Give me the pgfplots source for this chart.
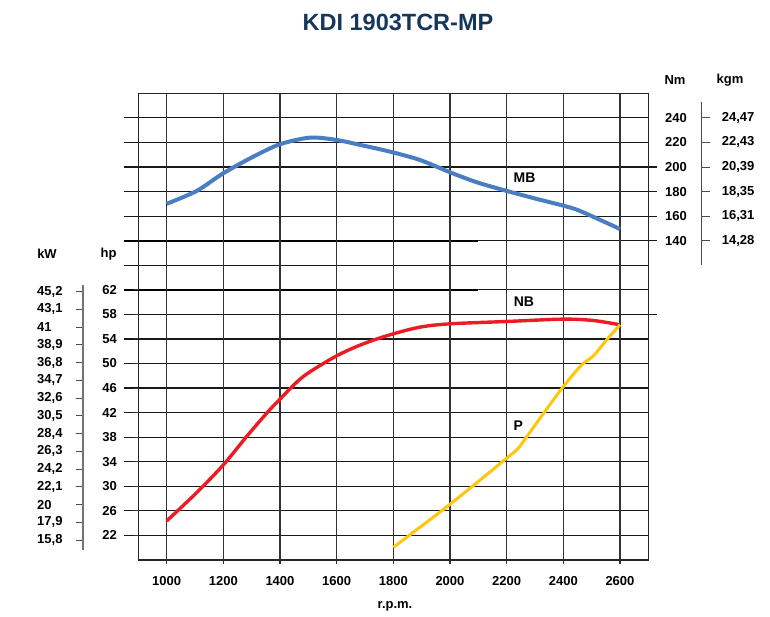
\documentclass[border=0pt]{standalone}
\usepackage{fontspec}
\setmainfont{Liberation Sans}
\usepackage{pgfplots}
\usepackage{pgfplotstable}
\pgfplotsset{compat=1.18}

\definecolor{mbblue}{RGB}{74,126,194}
\definecolor{nbred}{RGB}{236,28,36}
\definecolor{pyel}{RGB}{255,198,10}
\definecolor{navy}{RGB}{22,55,92}

\newcommand\lbl{\fontsize{13pt}{15pt}\selectfont\bfseries}
\newcommand\crv{\fontsize{14pt}{16pt}\selectfont\bfseries}

% torque MB, Nm
\pgfplotstableread{
rpm Nm
1000 170
1106 180.5
1200 194.9
1306 208.4
1400 218.5
1506 223.9
1600 222
1694 217.4
1788 212.5
1894 205.7
2000 195.7
2094 187.6
2200 180.5
2306 174
2400 168.5
2459 164.2
2600 149.5
}\mbdata

% power NB, hp
\pgfplotstableread{
rpm hp
1000 24.35
1106 28.97
1200 33.48
1282 38.09
1353 41.9
1400 44.19
1482 47.87
1600 51.24
1694 53.2
1788 54.67
1894 55.92
2000 56.46
2200 56.84
2400 57.22
2506 57.0
2600 56.3
}\nbdata

% power P, hp
\pgfplotstableread{
rpm hp
1800 20.07
2000 27.07
2200 34.57
2241 36.2
2271 38.09
2335 42.17
2400 46.24
2465 49.78
2506 51.24
2553 53.85
2600 56.3
}\pdata

\pgfplotsset{
  helper/.style={scale only axis, anchor=south west, height=466.7pt,
    ymin=18, ymax=94, xmin=0, xmax=1,
    axis line style={draw=none}, xtick=\empty,
    ymajorgrids, yticklabel={\empty}, yticklabel style={opacity=0},
    major tick length=0pt,
    major grid style={black!90, line width=1.2pt}},
}

\begin{document}
\begin{tikzpicture}
\useasboundingbox (0,0) rectangle (770pt,617pt);

% horizontal grid, running out to the left
\begin{axis}[helper, at={(124.3pt,57pt)}, width=524pt, ytick={22,26,...,90}]
\end{axis}
% lines that run out to the right
\begin{axis}[helper, at={(138.3pt,57pt)}, width=518.7pt, ytick={58,70,74,78,82}]
\end{axis}
% heavier parts
\begin{axis}[helper, at={(124.3pt,57pt)}, width=353.7pt, ytick={62,70},
  major grid style={black, line width=2pt}]
\end{axis}

% main axis: hp
\begin{axis}[
  at={(138.3pt,57pt)}, anchor=south west, scale only axis,
  width=510pt, height=466.7pt,
  xmin=900, xmax=2700, ymin=18, ymax=94,
  xtick={1000,1200,...,2600},
  ytick={22,26,...,62},
  xmajorgrids,
  major grid style={black!80, line width=1.1pt},
  axis line style={black!85, line width=1.2pt},
  tick style={black!80, line width=1.1pt},
  tick align=outside, major tick length=4pt,
  xtick pos=bottom, ytick pos=left,
  ticklabel style={font=\lbl, inner sep=0pt},
  xticklabel style={yshift=-12.4pt},
  yticklabel style={anchor=east, xshift=-17.3pt},
  /pgf/number format/assume math mode=true,
  /pgf/number format/set thousands separator={},
  clip=false,
]
\addplot[nbred, line width=3.4pt, smooth] table[x=rpm, y=hp] {\nbdata};
\addplot[pyel, line width=3pt, smooth] table[x=rpm, y=hp] {\pdata};
\node[font=\crv] at (axis cs:2263,80.3) {MB};
\node[font=\crv] at (axis cs:2261,60.04) {NB};
\node[font=\crv] at (axis cs:2241,39.8) {P};
\end{axis}

% Nm scale
\begin{axis}[
  at={(138.3pt,57pt)}, anchor=south west, scale only axis,
  width=510pt, height=466.7pt,
  xmin=900, xmax=2700, ymin=-120, ymax=260,
  axis line style={draw=none}, xtick=\empty,
  ytick={140,160,...,240}, ytick pos=right, yticklabel pos=right,
  major tick length=0pt,
  yticklabel style={font=\lbl, inner sep=0pt, anchor=west, xshift=16.7pt},
  /pgf/number format/assume math mode=true,
]
\addplot[mbblue, line width=4pt, smooth] table[x=rpm, y=Nm] {\mbdata};
\end{axis}

% kW scale
\begin{axis}[
  at={(83pt,67pt)}, anchor=south west, scale only axis,
  width=10pt, height=265pt,
  xmin=0, xmax=1, ymin=14.62, ymax=45.99,
  hide x axis, axis y line*=left,
  axis line style={black!55, line width=1.8pt},
  tick style={black!70, line width=1pt},
  tick align=outside, major tick length=7pt,
  ytick={15.8,17.9,20,22.1,24.2,26.3,28.4,30.5,32.6,34.7,36.8,38.9,41,43.1,45.2},
  yticklabels={{15,8},{17,9},20,{22,1},{24,2},{26,3},{28,4},{30,5},{32,6},{34,7},{36,8},{38,9},41,{43,1},{45,2}},
  yticklabel style={font=\lbl, inner sep=0pt, anchor=west, xshift=-39pt},
]
\end{axis}

% kgm scale
\begin{axis}[
  at={(701.7pt,352pt)}, anchor=south east, scale only axis,
  width=10pt, height=163.3pt,
  xmin=0, xmax=1, ymin=120.2, ymax=253.2,
  hide x axis, axis y line*=right,
  axis line style={black!70, line width=1.5pt},
  tick style={black!70, line width=1pt},
  tick align=outside, major tick length=8pt,
  ytick={140,160,...,240},
  yticklabels={{14,28},{16,31},{18,35},{20,39},{22,43},{24,47}},
  yticklabel style={font=\lbl, inner sep=0pt, anchor=west, xshift=12pt},
]
\end{axis}

\node[font=\fontsize{23.5pt}{26pt}\selectfont\bfseries, text=navy] at (398pt,595pt) {KDI 1903TCR-MP};
\node[font=\lbl] at (395pt,10.3pt) {r.p.m.};
\node[font=\lbl] at (47pt,363pt) {kW};
\node[font=\lbl] at (108.5pt,363pt) {hp};
\node[font=\lbl] at (675pt,537pt) {Nm};
\node[font=\lbl] at (730pt,537pt) {kgm};
\end{tikzpicture}
\end{document}
